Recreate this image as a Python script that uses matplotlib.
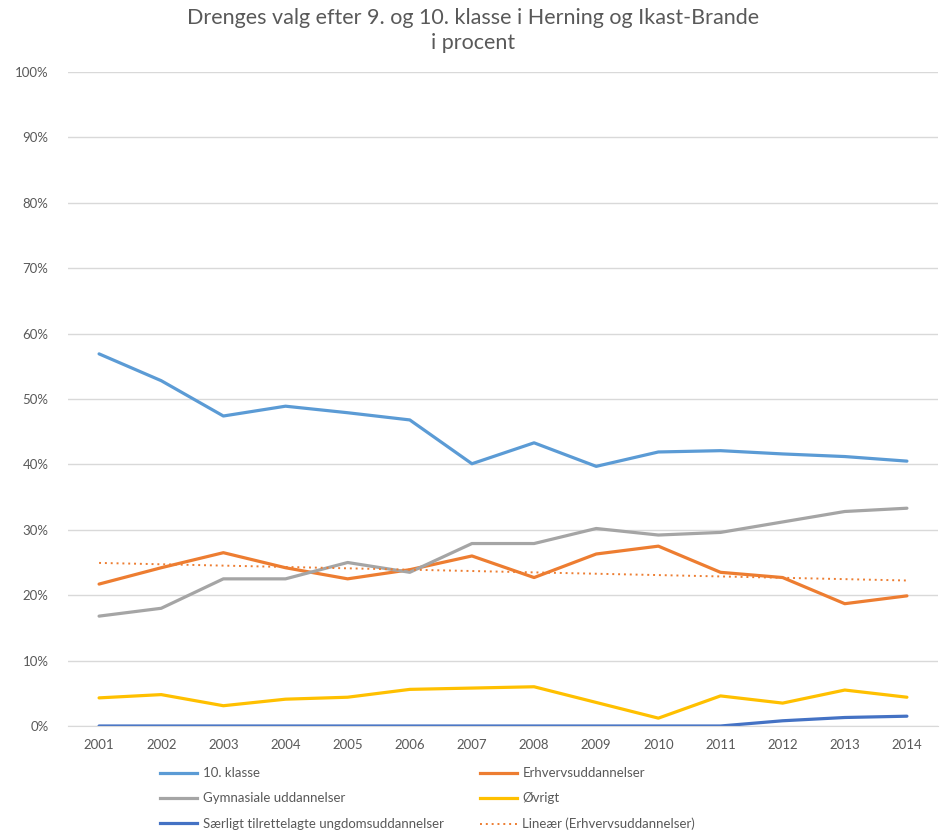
import numpy as np
import matplotlib.pyplot as plt
from matplotlib.lines import Line2D

plt.rcParams['font.family'] = ['Lato', 'DejaVu Sans']

# DATA (percent)
years = ['2001', '2002', '2003', '2004', '2005', '2006', '2007',
         '2008', '2009', '2010', '2011', '2012', '2013', '2014']
klasse10 = [56.9, 52.8, 47.4, 48.9, 47.9, 46.8, 40.1, 43.3, 39.7, 41.9, 42.1, 41.6, 41.2, 40.5]
erhverv = [21.7, 24.2, 26.5, 24.2, 22.5, 23.9, 26.0, 22.7, 26.3, 27.5, 23.5, 22.7, 18.7, 19.9]
gymnasiale = [16.8, 18.0, 22.5, 22.5, 25.0, 23.5, 27.9, 27.9, 30.2, 29.2, 29.6, 31.2, 32.8, 33.3]
ovrigt = [4.3, 4.8, 3.1, 4.1, 4.4, 5.6, 5.8, 6.0, 3.6, 1.2, 4.6, 3.5, 5.5, 4.4]
saerligt = [0, 0, 0, 0, 0, 0, 0, 0, 0, 0, 0, 0.8, 1.3, 1.5]

labels = ['10. klasse', 'Erhvervsuddannelser', 'Gymnasiale uddannelser', 'Øvrigt',
          'Særligt tilrettelagte ungdomsuddannelser', 'Lineær (Erhvervsuddannelser)']
colors = ['#5B9BD5', '#ED7D31', '#A5A5A5', '#FFC000', '#4472C4']

fig = plt.figure(figsize=(9.46, 8.30), dpi=100)
ax = fig.add_axes([68/946, 1 - 726/830, 870/946, 654/830])

x = np.arange(len(years))
lw = 2.3
ax.plot(x, klasse10, color=colors[0], lw=lw, solid_capstyle='round')
ax.plot(x, erhverv, color=colors[1], lw=lw, solid_capstyle='round')
ax.plot(x, gymnasiale, color=colors[2], lw=lw, solid_capstyle='round')
ax.plot(x, ovrigt, color=colors[3], lw=lw, solid_capstyle='round')
ax.plot(x, saerligt, color=colors[4], lw=lw, solid_capstyle='round')

# linear trendline for Erhvervsuddannelser
k, m = np.polyfit(x, erhverv, 1)
ax.plot(x, k*x + m, color=colors[1], lw=1.4, linestyle=(0, (1, 2)))

ax.set_xlim(-0.5, len(years) - 0.5)
ax.set_ylim(0, 100)
ax.set_yticks(np.arange(0, 101, 10))
ax.set_yticklabels(['%d%%' % v for v in range(0, 101, 10)])
ax.set_xticks(x)
ax.set_xticklabels(years)
ax.grid(axis='y', color='#D9D9D9', lw=1)
ax.set_axisbelow(True)
for s in ['top', 'right', 'left']:
    ax.spines[s].set_visible(False)
ax.spines['bottom'].set_color('#D9D9D9')
ax.tick_params(axis='both', length=0, labelsize=9.5, colors='#595959')
ax.tick_params(axis='y', pad=14)
ax.tick_params(axis='x', pad=9)

fig.text(0.5, 1 - 18/830, 'Drenges valg efter 9. og 10. klasse i Herning og Ikast-Brande',
         ha='center', va='center', fontsize=15.5, color='#595959')
fig.text(0.5, 1 - 43/830, 'i procent', ha='center', va='center', fontsize=15.5, color='#595959')

# legend, two columns as in the reference
h = [Line2D([], [], color=c, lw=lw) for c in colors]
h.append(Line2D([], [], color=colors[1], lw=1.4, linestyle=(0, (1, 2))))
col1 = [0, 2, 4]
col2 = [1, 3, 5]
for idx, xpos in [(col1, 155), (col2, 475)]:
    leg = fig.legend([h[i] for i in idx], [labels[i] for i in idx],
                     loc='upper left', bbox_to_anchor=(xpos/946, 1 - 762/830),
                     frameon=False, fontsize=9.5, handlelength=2.8,
                     handletextpad=0.4, labelspacing=1.0, borderaxespad=0)
    for t in leg.get_texts():
        t.set_color('#595959')

fig.savefig('out.png', dpi=100)
